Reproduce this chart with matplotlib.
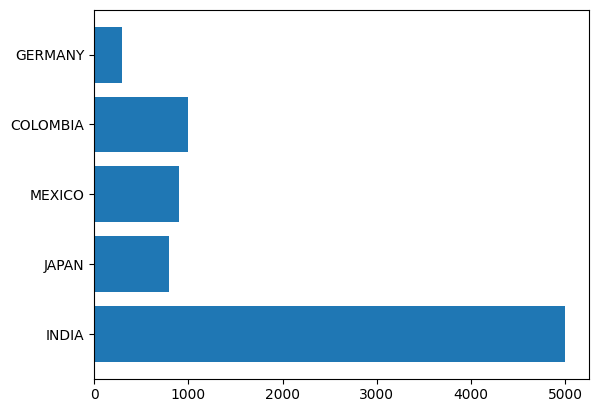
import matplotlib.pyplot as plt

countries = ['INDIA', 'JAPAN', 'MEXICO', 'COLOMBIA', 'GERMANY']
values = [5000, 800, 900, 1000, 300]

fig = plt.figure(figsize=(5.99, 4.13), dpi=100)
ax = fig.add_subplot(111)
ax.barh(countries, values)
fig.subplots_adjust(left=0.157, right=0.983, top=0.976, bottom=0.083)
fig.savefig('out.png', dpi=100)
